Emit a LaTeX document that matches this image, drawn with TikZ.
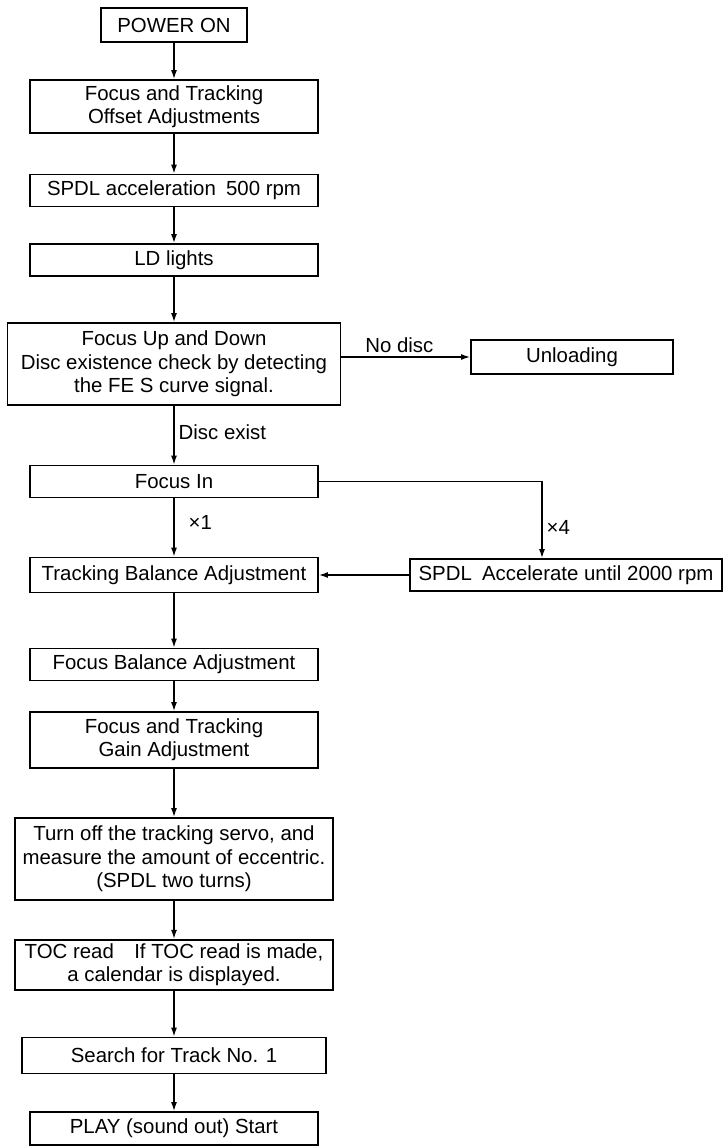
\documentclass[tikz,border=0pt]{standalone}
\usepackage{fontspec}
\setmainfont{Liberation Sans}
\usetikzlibrary{arrows.meta,positioning}

\tikzset{
  stepbox/.style={draw,line width=0.9pt,align=center,inner sep=2pt,
                  minimum width=144pt,minimum height=16pt},
  flow/.style={->,line width=0.7pt},
  tag/.style={inner sep=2pt}
}

\begin{document}
\begin{tikzpicture}[x=0.5pt,y=-0.5pt,>={Latex[length=4.5pt,width=3pt]},
                    font=\fontsize{10.2}{11.7}\selectfont]
  \useasboundingbox (0,0) rectangle (724,1146);
  % main column
  \node[stepbox,minimum width=73pt,minimum height=17pt] (pwr) at (174,25) {POWER ON};
  \node[stepbox,minimum height=26.5pt] (ofs) at (174,106.5)
    {Focus and Tracking\\Offset Adjustments};
  \node[stepbox] (spdl) at (174,190.5) {SPDL acceleration\enspace 500 rpm};
  \node[stepbox] (ld) at (174,260) {LD lights};
  \node[stepbox,minimum width=166.5pt,minimum height=41pt] (fud) at (174,364)
    {Focus Up and Down\\Disc existence check by detecting\\the FE S curve signal.};
  \node[stepbox] (fin) at (174,481.5) {Focus In};
  \node[stepbox,minimum height=17.5pt] (tba) at (174,575) {Tracking Balance Adjustment};
  \node[stepbox] (fba) at (174,664.5) {Focus Balance Adjustment};
  \node[stepbox,minimum height=28pt] (gain) at (174,740)
    {Focus and Tracking\\Gain Adjustment};
  \node[stepbox,minimum width=159pt,minimum height=41pt] (turn) at (174,859)
    {Turn off the tracking servo, and\\measure the amount of eccentric.\\(SPDL two turns)};
  \node[stepbox,minimum width=159pt,minimum height=25pt] (toc) at (174,965)
    {TOC read\enspace\enspace If TOC read is made,\\a calendar is displayed.};
  \node[stepbox,minimum width=152pt,minimum height=18pt] (srch) at (174,1055.5)
    {Search for Track No. 1};
  \node[stepbox,minimum height=16.5pt] (play) at (174,1128.5) {PLAY (sound out) Start};
  % side branches
  \node[stepbox,minimum width=101pt,minimum height=17pt] (unl) at (572,357) {Unloading};
  \node[stepbox,minimum width=156pt] (acc) at (566,575) {SPDL\enspace Accelerate until 2000 rpm};

  \foreach \a/\b in {pwr/ofs,ofs/spdl,spdl/ld,ld/fud,tba/fba,fba/gain,gain/turn,
                     turn/toc,toc/srch,srch/play}
    \draw[flow] (\a) -- (\b);
  \draw[flow] (fud) -- node[tag,anchor=west,pos=0.44]{Disc exist} (fin);
  \draw[flow] (fin) -- node[tag,anchor=west,pos=0.42,xshift=5pt]{×1} (tba);
  \draw[flow] (unl.west -| fud.east) -- node[tag,above,pos=0.45]{No disc} (unl.west);
  \draw[flow] (fin.east) -| node[tag,anchor=west,pos=0.8]{×4} ([xshift=-12pt]acc.north);
  \draw[flow] (acc.west) -- (tba.east);
\end{tikzpicture}
\end{document}
